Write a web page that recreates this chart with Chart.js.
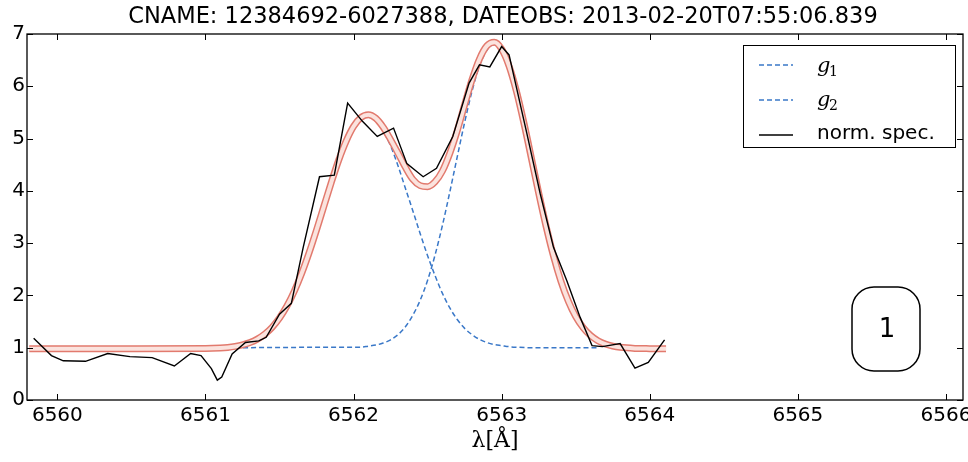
<!DOCTYPE html>
<html>
<head>
<meta charset="utf-8">
<script src="https://cdn.jsdelivr.net/npm/chart.js@4.4.1/dist/chart.umd.min.js"></script>
<style>
  html, body { margin: 0; padding: 0; background: #fff; }
  #wrap { width: 968px; height: 462px; }
</style>
</head>
<body>
<div id="wrap"><canvas id="specChart" width="968" height="462"></canvas></div>
<script>
const titleText = 'CNAME: 12384692-6027388, DATEOBS: 2013-02-20T07:55:06.839';
const xTicks = [6560, 6561, 6562, 6563, 6564, 6565, 6566];
const yTicks = [0, 1, 2, 3, 4, 5, 6, 7];

// normalised spectrum
const specX = [6559.84, 6559.96, 6560.04, 6560.19, 6560.34, 6560.49, 6560.64, 6560.79, 6560.90, 6560.97,
  6561.04, 6561.08, 6561.11, 6561.18, 6561.27, 6561.36, 6561.41, 6561.50, 6561.58, 6561.66,
  6561.77, 6561.87, 6561.96, 6562.06, 6562.16, 6562.27, 6562.36, 6562.47, 6562.56, 6562.67,
  6562.78, 6562.85, 6562.92, 6563.00, 6563.05, 6563.17, 6563.26, 6563.35, 6563.44, 6563.53,
  6563.61, 6563.68, 6563.80, 6563.90, 6563.99, 6564.10];
const specY = [1.18, 0.85, 0.75, 0.74, 0.89, 0.83, 0.81, 0.65, 0.89, 0.85,
  0.60, 0.38, 0.44, 0.88, 1.10, 1.13, 1.20, 1.64, 1.85, 2.92,
  4.27, 4.30, 5.68, 5.33, 5.04, 5.20, 4.52, 4.27, 4.43, 5.04,
  6.06, 6.41, 6.37, 6.76, 6.60, 5.10, 3.95, 2.92, 2.28, 1.58,
  1.04, 1.02, 1.08, 0.61, 0.72, 1.15];

// two-gaussian fit (band)
const fitX = [6559.81, 6560.5, 6561.0, 6561.1, 6561.15, 6561.2, 6561.25, 6561.3, 6561.35, 6561.4,
  6561.45, 6561.5, 6561.55, 6561.6, 6561.65, 6561.7, 6561.75, 6561.8, 6561.85, 6561.9,
  6561.95, 6562.0, 6562.05, 6562.1, 6562.15, 6562.2, 6562.25, 6562.3, 6562.35, 6562.4,
  6562.45, 6562.5, 6562.55, 6562.6, 6562.65, 6562.7, 6562.75, 6562.8, 6562.85, 6562.9,
  6562.95, 6563.0, 6563.05, 6563.1, 6563.15, 6563.2, 6563.25, 6563.3, 6563.35, 6563.4,
  6563.45, 6563.5, 6563.55, 6563.6, 6563.65, 6563.7, 6563.75, 6563.8, 6563.9, 6564.0, 6564.11];
const fitY = [0.98, 0.98, 0.985, 0.995, 1.006, 1.025, 1.054, 1.098, 1.164, 1.259,
  1.391, 1.568, 1.797, 2.082, 2.424, 2.818, 3.252, 3.709, 4.164, 4.590,
  4.952, 5.232, 5.403, 5.456, 5.389, 5.218, 4.98, 4.72, 4.45, 4.22,
  4.10, 4.08, 4.17, 4.38, 4.72, 5.15, 5.646, 6.127, 6.521, 6.772,
  6.840, 6.710, 6.387, 5.902, 5.300, 4.635, 3.958, 3.321, 2.753, 2.274,
  1.891, 1.597, 1.383, 1.234, 1.134, 1.070, 1.031, 1.007, 0.987, 0.982, 0.98];

// components
const g1X = [6561.2, 6561.25, 6561.3, 6561.35, 6561.4, 6561.45, 6561.5, 6561.55, 6561.6, 6561.65,
  6561.7, 6561.75, 6561.8, 6561.85, 6561.9, 6561.95, 6562.0, 6562.05, 6562.1, 6562.15,
  6562.2, 6562.25, 6562.3, 6562.35, 6562.4, 6562.45, 6562.5, 6562.55, 6562.6, 6562.65,
  6562.7, 6562.75, 6562.8, 6562.85, 6562.9, 6562.95, 6563.0, 6563.05, 6563.1, 6563.2, 6563.65];
const g1Y = [1.05, 1.07, 1.12, 1.18, 1.28, 1.41, 1.59, 1.82, 2.10, 2.44,
  2.84, 3.27, 3.73, 4.18, 4.61, 4.97, 5.25, 5.41, 5.45, 5.36,
  5.15, 4.86, 4.48, 4.05, 3.62, 3.18, 2.76, 2.38, 2.04, 1.76,
  1.54, 1.37, 1.25, 1.16, 1.10, 1.06, 1.04, 1.02, 1.01, 1.00, 1.00];
const g2X = [6561.2, 6562.0, 6562.05, 6562.1, 6562.15, 6562.2, 6562.25, 6562.3, 6562.35, 6562.4,
  6562.45, 6562.5, 6562.55, 6562.6, 6562.65, 6562.7, 6562.75, 6562.8, 6562.85, 6562.9,
  6562.95, 6563.0, 6563.05, 6563.1, 6563.15, 6563.2, 6563.25, 6563.3, 6563.35, 6563.4,
  6563.45, 6563.5, 6563.55, 6563.6, 6563.65, 6563.7, 6563.75, 6563.8];
const g2Y = [1.00, 1.01, 1.01, 1.03, 1.05, 1.09, 1.15, 1.25, 1.40, 1.62,
  1.91, 2.29, 2.77, 3.34, 3.98, 4.65, 5.31, 5.91, 6.39, 6.69,
  6.80, 6.69, 6.39, 5.91, 5.31, 4.65, 3.98, 3.34, 2.77, 2.29,
  1.91, 1.62, 1.40, 1.25, 1.15, 1.09, 1.05, 1.03];

const pts = (xs, ys) => xs.map((x, i) => ({ x: x, y: ys[i] }));

const BLUE = '#3a78c8';
const FONT = '"DejaVu Sans", sans-serif';

const decor = {
  id: 'decor',
  afterDraw(chart) {
    const ctx = chart.ctx;
    const a = chart.chartArea;
    const xs = chart.scales.x, ys = chart.scales.y;
    ctx.save();
    // frame
    ctx.strokeStyle = '#000';
    ctx.lineWidth = 1.3;
    ctx.strokeRect(a.left, a.top, a.right - a.left, a.bottom - a.top);
    // inward ticks
    ctx.lineWidth = 1;
    ctx.beginPath();
    xTicks.forEach(v => {
      const px = Math.round(xs.getPixelForValue(v)) + 0.5;
      ctx.moveTo(px, a.bottom); ctx.lineTo(px, a.bottom - 6);
      ctx.moveTo(px, a.top); ctx.lineTo(px, a.top + 6);
    });
    yTicks.forEach(v => {
      const py = Math.round(ys.getPixelForValue(v)) + 0.5;
      ctx.moveTo(a.left, py); ctx.lineTo(a.left + 6, py);
      ctx.moveTo(a.right, py); ctx.lineTo(a.right - 6, py);
    });
    ctx.stroke();

    // title
    ctx.fillStyle = '#000';
    ctx.font = '22.5px ' + FONT;
    ctx.textAlign = 'center';
    ctx.textBaseline = 'middle';
    ctx.fillText(titleText, 503, 17);

    // x label
    ctx.font = '22px "DejaVu Serif", serif';
    ctx.fillText('λ[Å]', 495, 441);

    // legend
    ctx.lineWidth = 1;
    ctx.strokeStyle = '#000';
    ctx.strokeRect(743.5, 45.5, 212, 102);
    const rows = [
      { y: 65, ty: 72, dash: true, sub: '1' },
      { y: 100, ty: 106, dash: true, sub: '2' },
      { y: 135, ty: 134, dash: false }
    ];
    rows.forEach(r => {
      ctx.beginPath();
      ctx.setLineDash(r.dash ? [5, 3] : []);
      ctx.strokeStyle = r.dash ? BLUE : '#000';
      ctx.lineWidth = r.dash ? 1.5 : 1.3;
      ctx.moveTo(759, r.y); ctx.lineTo(793, r.y);
      ctx.stroke();
      ctx.setLineDash([]);
      ctx.textAlign = 'left';
      if (r.dash) {
        ctx.textBaseline = 'alphabetic';
        ctx.font = 'italic 21px "DejaVu Serif", serif';
        ctx.fillText('g', 817, r.ty);
        ctx.font = '14px "DejaVu Serif", serif';
        ctx.fillText(r.sub, 829, r.ty + 4);
      } else {
        ctx.textBaseline = 'middle';
        ctx.font = '20px ' + FONT;
        ctx.fillText('norm. spec.', 817, r.ty);
      }
    });

    // panel number box
    ctx.beginPath();
    ctx.lineWidth = 1.5;
    ctx.strokeStyle = '#000';
    ctx.roundRect(852, 287, 68, 84, 22);
    ctx.stroke();
    ctx.font = '26px ' + FONT;
    ctx.textAlign = 'center';
    ctx.textBaseline = 'middle';
    ctx.fillText('1', 887, 330);
    ctx.restore();
  }
};

new Chart(document.getElementById('specChart'), {
  type: 'line',
  data: {
    datasets: [
      { label: 'norm. spec.', data: pts(specX, specY), borderColor: '#000', borderWidth: 1.4,
        pointRadius: 0, tension: 0, order: 0 },
      { label: 'fit inner', data: pts(fitX, fitY), borderColor: '#fbe3de', borderWidth: 4,
        pointRadius: 0, cubicInterpolationMode: 'monotone', order: 1 },
      { label: 'fit outer', data: pts(fitX, fitY), borderColor: '#e27a6e', borderWidth: 7,
        pointRadius: 0, cubicInterpolationMode: 'monotone', order: 2 },
      { label: 'g1', data: pts(g1X, g1Y), borderColor: BLUE, borderWidth: 1.5, borderDash: [5, 3],
        pointRadius: 0, cubicInterpolationMode: 'monotone', order: 3 },
      { label: 'g2', data: pts(g2X, g2Y), borderColor: BLUE, borderWidth: 1.5, borderDash: [5, 3],
        pointRadius: 0, cubicInterpolationMode: 'monotone', order: 4 }
    ]
  },
  options: {
    responsive: false,
    animation: false,
    layout: { padding: { top: 34, right: 5, left: 0, bottom: 0 } },
    plugins: { legend: { display: false }, tooltip: { enabled: false }, title: { display: false } },
    scales: {
      x: {
        type: 'linear', min: 6559.795, max: 6566.115,
        afterBuildTicks: s => { s.ticks = xTicks.map(v => ({ value: v })); },
        afterFit: s => { s.height = 62; s.paddingLeft = 0; s.paddingRight = 0; },
        grid: { display: false, drawTicks: false },
        border: { display: false },
        ticks: { color: '#000', font: { family: FONT, size: 20 }, padding: 4, maxRotation: 0,
          callback: v => String(v) }
      },
      y: {
        min: 0, max: 7,
        afterBuildTicks: s => { s.ticks = yTicks.map(v => ({ value: v })); },
        afterFit: s => { s.width = 27; s.paddingTop = 0; s.paddingBottom = 0; },
        grid: { display: false, drawTicks: false },
        border: { display: false },
        ticks: { color: '#000', font: { family: FONT, size: 20 }, padding: 2, callback: v => String(v) }
      }
    }
  },
  plugins: [decor]
});
</script>
</body>
</html>
